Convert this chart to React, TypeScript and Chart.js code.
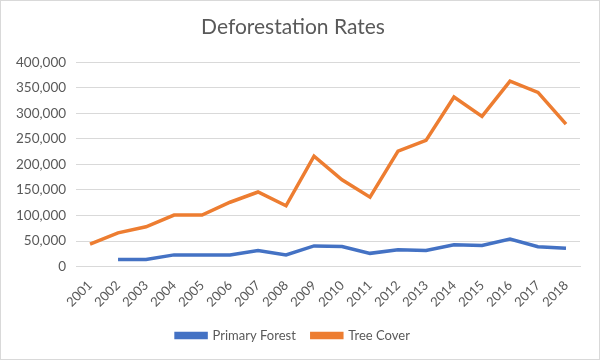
import React, { useEffect, useRef } from "react";
import { Chart, registerables } from "chart.js";

Chart.register(...registerables);

const years = ["2001","2002","2003","2004","2005","2006","2007","2008","2009","2010","2011","2012","2013","2014","2015","2016","2017","2018"];
const primaryForest = [null, 14000, 14000, 23000, 23000, 23000, 31500, 23000, 40500, 39500, 26000, 33000, 31500, 43000, 41500, 54000, 39000, 36000];
const treeCover = [44000, 66000, 78000, 101000, 101000, 126000, 146000, 119000, 216000, 170000, 136000, 226000, 247000, 332000, 294000, 363000, 341000, 279000];

export default function App() {
  const ref = useRef<HTMLCanvasElement | null>(null);
  useEffect(() => {
    if (!ref.current) return;
    const font = "Lato, 'Open Sans', sans-serif";
    const chart = new Chart(ref.current, {
      type: "line",
      data: {
        labels: years,
        datasets: [
          { label: "Primary Forest", data: primaryForest, borderColor: "#4472C4", backgroundColor: "#4472C4", borderWidth: 3.5, pointRadius: 0, tension: 0 },
          { label: "Tree Cover", data: treeCover, borderColor: "#ED7D31", backgroundColor: "#ED7D31", borderWidth: 3.5, pointRadius: 0, tension: 0 },
        ],
      },
      options: {
        animation: false,
        responsive: false,
        layout: { padding: { left: 5, right: 19, top: 6, bottom: 7 } },
        plugins: {
          title: { display: true, text: "Deforestation Rates", color: "#595959", font: { family: font, size: 21, weight: "normal" }, padding: { top: 8, bottom: 22 } },
          legend: {
            position: "bottom",
            labels: { color: "#595959", font: { family: font, size: 13 }, boxWidth: 30, boxHeight: 4, padding: 16 },
          },
          tooltip: { enabled: false },
        },
        scales: {
          x: {
            offset: true,
            grid: { display: false },
            border: { color: "#d9d9d9" },
            ticks: { color: "#595959", font: { family: font, size: 13 }, minRotation: 45, maxRotation: 45, autoSkip: false },
          },
          y: {
            min: 0,
            max: 400000,
            grid: { color: "#d9d9d9", drawTicks: false },
            border: { display: false },
            ticks: { stepSize: 50000, color: "#595959", padding: 10, font: { family: font, size: 13.5 }, callback: (v: any) => Number(v).toLocaleString("en-US") },
          },
        },
      },
    });
    return () => chart.destroy();
  }, []);
  return (
    <div style={{ position: "absolute", left: 0, top: 0, width: 600, height: 360, border: "1px solid #d9d9d9", boxSizing: "border-box", background: "#fff" }}>
      <canvas ref={ref} width={598} height={358} style={{ display: "block" }} />
    </div>
  );
}
